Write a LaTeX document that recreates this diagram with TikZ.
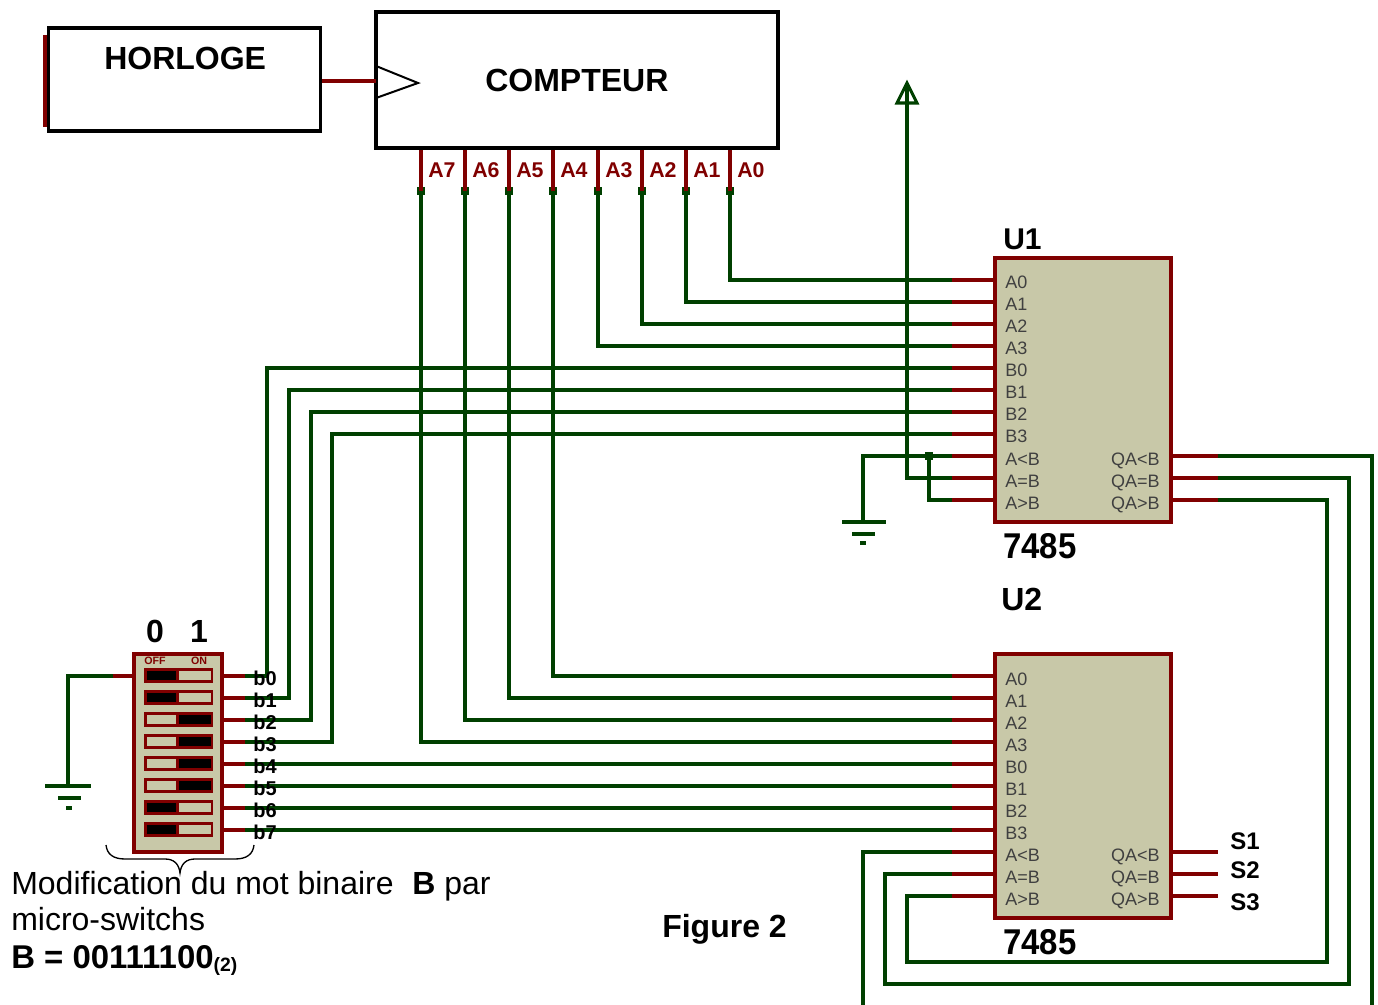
\documentclass[tikz,border=0pt]{standalone}
\usepackage{fontspec}
\setmainfont{Liberation Sans}
\usetikzlibrary{calc}
\definecolor{wiregreen}{RGB}{0,64,0}
\definecolor{pinred}{RGB}{128,0,0}
\definecolor{chipfill}{RGB}{200,200,168}
\tikzset{
    wire/.style={draw=wiregreen, line width=2.3pt, line join=miter},
    pinline/.style={draw=pinred, line width=2.3pt},
    chip/.style={draw=pinred, fill=chipfill, line width=2.4pt, inner sep=0pt, minimum width=132pt, minimum height=198pt},
    block/.style={draw=black, fill=white, line width=2.6pt, inner sep=0pt},
    junction/.style={fill=wiregreen, inner sep=0pt, minimum size=6pt},
    pinlabel/.style={font=\fontsize{13.5}{15}\selectfont, text=black!75, inner sep=0pt},
    title/.style={font=\fontsize{24}{28}\selectfont\bfseries, inner sep=0pt, anchor=base west},
    plain/.style={font=\fontsize{24}{28}\selectfont, inner sep=0pt, anchor=base west},
    outname/.style={font=\fontsize{18}{20}\selectfont\bfseries, inner sep=0pt, anchor=base west},
    cntlabel/.style={font=\fontsize{16}{18}\selectfont\bfseries, text=pinred, inner sep=0pt, anchor=west},
    swlabel/.style={font=\fontsize{15}{17}\selectfont\bfseries, inner sep=0pt},
    swname/.style={font=\fontsize{8}{9}\selectfont\bfseries, text=pinred, inner sep=0pt},
    swframe/.style={fill=pinred, inner sep=0pt, minimum width=51.75pt, minimum height=11.25pt},
    swcell/.style={inner sep=0pt, minimum height=6.75pt},
}

\begin{document}
\begin{tikzpicture}[x=0.75pt, y=-0.75pt]
    \useasboundingbox (0, 0) rectangle (1378, 1005);

    \draw [draw=pinred, line width=2.6pt] (45, 35) -- (45, 127);
    \node [block, minimum width=204pt, minimum height=77pt] (horloge) at (184.5, 79.5) {};
    \node [block, minimum width=301.5pt, minimum height=102pt] (compteur) at (577, 80) {};
    \node [title] (horlogetxt) at (104, 70) {HORLOGE};
    \node [title] (compteurtxt) at (485, 92) {COMPTEUR};
    \coordinate (clk) at (376, 81);
    \draw [pinline] (clk -| horloge.east) -- (clk);
    \draw [black, line width=1.5pt, line join=miter] (376, 66) -- (418, 83) -- (376, 98);

    \node [chip] (u1) at (1083, 390) {};
    \node [chip] (u2) at (1083, 786) {};
    \node [title, font=\fontsize{22.5}{28}\selectfont\bfseries] (u1name) at (1003, 250) {U1};
    \node [title] (u2name) at (1001, 610) {U2};
    \node [title] (u1type) at (1003, 558) {\scalebox{1.03}[1.12]{7485}};
    \node [title] (u2type) at (1003, 954) {\scalebox{1.03}[1.12]{7485}};

    \foreach \i/\txt in {0/A0, 1/A1, 2/A2, 3/A3, 4/B0, 5/B1, 6/B2, 7/B3, 8/A<B, 9/A=B, 10/A>B} {
        \node [pinlabel, anchor=base west] (u1lab\i) at (1005, {289+22*\i}) {\txt};
        \node [pinlabel, anchor=base west] (u2lab\i) at (1005, {685+22*\i}) {\txt};
        \coordinate (u1k\i) at (952, {280+22*\i});
        \coordinate (u2k\i) at (952, {676+22*\i});
        \draw [pinline] (u1k\i) -- (u1k\i -| u1.west);
        \draw [pinline] (u2k\i) -- (u2k\i -| u2.west);
    }
    \foreach \i/\txt in {0/QA<B, 1/QA=B, 2/QA>B} {
        \node [pinlabel, anchor=base east] (u1qlab\i) at (1160, {465+22*\i}) {\txt};
        \node [pinlabel, anchor=base east] (u2qlab\i) at (1160, {861+22*\i}) {\txt};
        \coordinate (u1q\i) at (1218, {456+22*\i});
        \coordinate (u2q\i) at (1218, {852+22*\i});
        \draw [pinline] (u1q\i -| u1.east) -- (u1q\i);
        \draw [pinline] (u2q\i -| u2.east) -- (u2q\i);
    }
    \node [outname] (s1) at (1230, 849) {S1};
    \node [outname] (s2) at (1230, 878) {S2};
    \node [outname] (s3) at (1230, 910) {S3};

    \foreach \i/\x in {7/421, 6/465, 5/509, 4/553, 3/598, 2/642, 1/686, 0/730} {
        \node [junction] (cnt\i) at (\x, 191) {};
        \draw [pinline] (cnt\i.center |- compteur.south) -- (cnt\i.center);
        \node [cntlabel] (cntlab\i) at (\x+7, 170) {A\i};
    }

    \draw [wire] (cnt0) |- (u1k0);
    \draw [wire] (cnt1) |- (u1k1);
    \draw [wire] (cnt2) |- (u1k2);
    \draw [wire] (cnt3) |- (u1k3);
    \draw [wire] (cnt4) |- (u2k0);
    \draw [wire] (cnt5) |- (u2k1);
    \draw [wire] (cnt6) |- (u2k2);
    \draw [wire] (cnt7) |- (u2k3);

    \node [chip, minimum width=66pt, minimum height=148.5pt] (dip) at (178, 753) {};
    \node [swname] (off) at (155, 661) {OFF};
    \node [swname] (on) at (199, 661) {ON};
    \node [title, anchor=base] (zero) at (155, 642) {0};
    \node [title, anchor=base] (one) at (199, 642) {1};
    \foreach \i/\lcol/\rcol in {0/black/chipfill, 1/black/chipfill, 2/chipfill/black, 3/chipfill/black,
                                4/chipfill/black, 5/chipfill/black, 6/black/chipfill, 7/black/chipfill} {
        \node [swframe] (sw\i) at (178.5, {675+22*\i}) {};
        \node [swcell, fill=\lcol, minimum width=21.75pt] (swl\i) at (161.5, {675+22*\i}) {};
        \node [swcell, fill=\rcol, minimum width=24pt] (swr\i) at (195, {675+22*\i}) {};
        \coordinate (swk\i) at (245, {676+22*\i});
        \draw [pinline] (swk\i -| dip.east) -- (swk\i);
    }

    \coordinate (vbus0) at (267, 368);
    \coordinate (vbus1) at (289, 390);
    \coordinate (vbus2) at (311, 412);
    \coordinate (vbus3) at (332, 434);
    \draw [wire] (swk0) -| (vbus0) -- (u1k4);
    \draw [wire] (swk1) -| (vbus1) -- (u1k5);
    \draw [wire] (swk2) -| (vbus2) -- (u1k6);
    \draw [wire] (swk3) -| (vbus3) -- (u1k7);
    \draw [wire] (swk4) -- (u2k4);
    \draw [wire] (swk5) -- (u2k5);
    \draw [wire] (swk6) -- (u2k6);
    \draw [wire] (swk7) -- (u2k7);
    \foreach \i in {0, ..., 7} {
        \node [swlabel] (blab\i) at (265, {678+22*\i}) {b\i};
    }

    \coordinate (dipin) at (113, 676);
    \draw [pinline] (dipin) -- (dipin -| dip.west);
    \coordinate (gnda) at (68, 786);
    \draw [wire] (dipin) -| (gnda);
    \draw [wire] (45, 786) -- (91, 786);
    \draw [wire] (58, 798) -- (81, 798);
    \draw [wire] (66, 808) -- (72, 808);

    \node [junction] (tie) at (929, 456) {};
    \coordinate (gndb) at (863, 522);
    \coordinate (vcc) at (907, 83);
    \draw [wire] (u1k8) -- (863, 456) -- (gndb);
    \draw [wire] (842, 522) -- (886, 522);
    \draw [wire] (852, 534) -- (875, 534);
    \draw [wire] (860, 543) -- (866, 543);
    \draw [wire] (tie) |- (u1k10);
    \draw [wire] (u1k9) -| (vcc);
    \draw [wire] (897, 103) -- (vcc) -- (917, 103) -- cycle;

    \draw [wire] (u1q0) -| (1372, 1005) coordinate (botq0);
    \draw [wire] (u1q1) -| (1349, 984) -| (u2k9 -| 885, 984) -- (u2k9);
    \draw [wire] (u1q2) -| (1327, 962) -| (u2k10 -| 907, 962) -- (u2k10);
    \draw [wire] (u2k8) -| (863, 1005);

    \draw [black, line width=1pt] (106, 845) .. controls (107, 854) and (113, 859) .. (125, 859)
        -- (165, 859) .. controls (174, 859) and (179, 864) .. (180, 873)
        .. controls (181, 864) and (186, 859) .. (195, 859)
        -- (235, 859) .. controls (247, 859) and (253, 854) .. (254, 845);

    \node [plain] (modif) at (11, 894) {Modification du mot binaire};
    \node [title] (motb) at (412, 894) {B};
    \node [plain] (par) at (444, 894) {par};
    \node [plain] (micro) at (11, 930) {micro-switchs};
    \node [title, font=\fontsize{24.7}{28}\selectfont\bfseries] (valb) at (11, 968) {B = 00111100{\fontsize{14.5}{16}\selectfont\raisebox{-2.5pt}{(2)}}};
    \node [title] (fig) at (662, 937) {Figure 2};
\end{tikzpicture}
\end{document}
